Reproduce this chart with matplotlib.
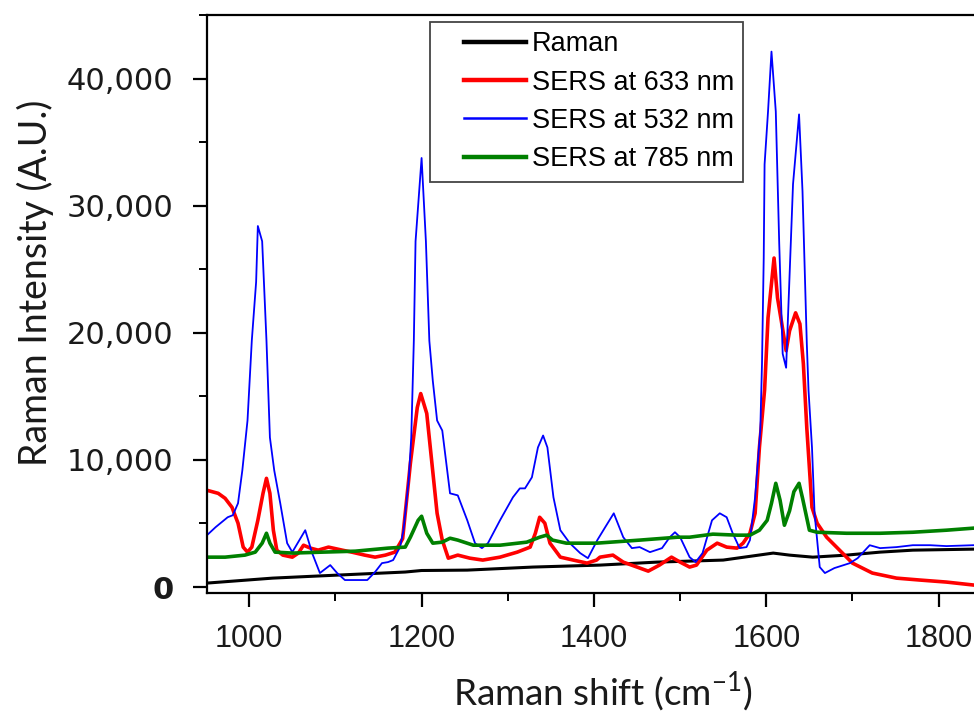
import matplotlib
matplotlib.use("Agg")
import matplotlib.pyplot as plt
from matplotlib.ticker import MultipleLocator
from matplotlib.legend_handler import HandlerLine2D

# Raman shift (cm-1) / intensity
raman_x = [951, 1027, 1103, 1181, 1200, 1253, 1329, 1407, 1473, 1550, 1608, 1627, 1654, 1693, 1732, 1770, 1840]
raman_y = [310, 700, 940, 1180, 1300, 1330, 1570, 1725, 1960, 2120, 2670, 2510, 2350, 2510, 2745, 2900, 2980]

sers633_x = [951, 964, 972, 980, 987, 993, 998, 1003, 1010, 1016, 1020, 1024, 1028, 1032, 1039,
             1050, 1057, 1063, 1071, 1080, 1092, 1108, 1119, 1134, 1146, 1158, 1169, 1178, 1187,
             1195, 1199, 1206, 1212, 1218, 1224, 1231, 1242, 1256, 1271, 1291, 1311, 1326, 1332,
             1337, 1343, 1349, 1361, 1376, 1392, 1403, 1407, 1422, 1434, 1450, 1463, 1476, 1490,
             1500, 1511, 1519, 1531, 1543, 1554, 1566, 1573, 1581, 1587, 1592, 1598, 1602, 1609,
             1613, 1618, 1623, 1627, 1634, 1639, 1643, 1647, 1653, 1659, 1670, 1685, 1700, 1723,
             1751, 1778, 1809, 1840]
sers633_y = [7610, 7370, 6980, 6270, 5020, 3140, 2745, 3140, 5250, 7370, 8550, 7370, 4470, 2900, 2510,
             2350, 2670, 3290, 3060, 2900, 3140, 2900, 2745, 2510, 2350, 2510, 2745, 3800, 9730,
             14120, 15220, 13650, 9730, 5800, 3690, 2270, 2510, 2270, 2120, 2350, 2745, 3140, 4230,
             5490, 5020, 3450, 2350, 2120, 1880, 2120, 2350, 2510, 1960, 1570, 1250, 1725, 2350,
             1960, 1570, 1725, 2900, 3450, 3140, 3060, 3450, 4230, 5800, 10980, 15500, 21180, 25880,
             22750, 20700, 18590, 20160, 21570, 20700, 17570, 12500, 6270, 5020, 3920, 2900, 1880, 1100,
             700, 550, 390, 160]

sers532_x = [951, 961, 975, 981, 987, 992, 998, 1003, 1008, 1010, 1015, 1020, 1024, 1029, 1036,
             1044, 1050, 1065, 1073, 1082, 1094, 1102, 1111, 1137, 1146, 1154, 1161, 1167, 1175,
             1179, 1185, 1188, 1191, 1193, 1200, 1205, 1209, 1213, 1218, 1224, 1233, 1242, 1253,
             1262, 1270, 1277, 1291, 1306, 1314, 1320, 1328, 1335, 1341, 1346, 1353, 1361, 1372,
             1384, 1393, 1404, 1413, 1423, 1434, 1444, 1453, 1465, 1479, 1488, 1494, 1500, 1511,
             1518, 1526, 1537, 1546, 1554, 1561, 1569, 1577, 1581, 1587, 1593, 1595, 1597, 1598,
             1602, 1606, 1611, 1615, 1619, 1623, 1625, 1631, 1638, 1642, 1647, 1649, 1653, 1656,
             1662, 1668, 1679, 1697, 1706, 1720, 1732, 1751, 1770, 1790, 1809, 1840]
sers532_y = [4080, 4710, 5490, 5650, 6590, 9180, 13100, 19400, 24000, 28400, 27200, 19400, 11760, 9180, 6590,
             3450, 2745, 4470, 2670, 1100, 1725, 1100, 550, 550, 1180, 1880, 1960, 2120, 3140,
             4470, 8390, 11760, 19370, 27200, 33750, 27200, 19370, 16230, 13100, 12310, 7370, 7210, 5250,
             3450, 3060, 3450, 5250, 7060, 7760, 7760, 8630, 10980, 11920, 10980, 7060, 4470, 3450,
             2670, 2270, 3700, 4700, 5800, 3920, 3060, 3140, 2745, 3060, 3920, 4310, 3920, 2350,
             1960, 2670, 5250, 5800, 5490, 4230, 3060, 3140, 3690, 7060, 12310, 17570, 25880, 33250,
             37410, 42120, 37410, 26980, 18350, 17250, 20940, 31690, 37180, 31140, 19140, 15450, 10980, 5800,
             1570, 1100, 1490, 1880, 2270, 3290, 3060, 3140, 3290, 3290, 3220, 3290]

sers785_x = [951, 972, 995, 1007, 1015, 1020, 1024, 1030, 1050, 1085, 1123, 1161, 1181, 1187, 1196,
             1200, 1206, 1213, 1224, 1233, 1242, 1260, 1291, 1322, 1337, 1345, 1352, 1368, 1403,
             1453, 1497, 1511, 1538, 1566, 1581, 1592, 1601, 1606, 1611, 1616, 1621, 1627, 1632,
             1638, 1642, 1650, 1659, 1693, 1732, 1770, 1809, 1840]
sers785_y = [2350, 2350, 2510, 2745, 3450, 4230, 3450, 2745, 2670, 2745, 2820, 3060, 3140, 3920, 5250,
             5570, 4230, 3450, 3530, 3840, 3690, 3290, 3290, 3530, 3920, 4080, 3690, 3450, 3450,
             3690, 3920, 3920, 4160, 4080, 4080, 4470, 5250, 6590, 8160, 6820, 4860, 6000, 7500,
             8160, 7000, 4470, 4310, 4230, 4230, 4310, 4470, 4630]

series_labels = ["Raman", "SERS at 633 nm", "SERS at 532 nm", "SERS at 785 nm"]
y_ticks = [0, 10000, 20000, 30000, 40000]
y_tick_labels = ["0", "10,000", "20,000", "30,000", "40,000"]
x_ticks = [1000, 1200, 1400, 1600, 1800]

fig = plt.figure(figsize=(9.74, 7.13), dpi=100)
ax = fig.add_axes([207 / 974, 120 / 713, 767 / 974, 578 / 713])

ax.plot(raman_x, raman_y, color="black", lw=2.2, label=series_labels[0])
ax.plot(sers633_x, sers633_y, color="#ff0000", lw=2.6, label=series_labels[1])
ax.plot(sers532_x, sers532_y, color="#0000ff", lw=1.3, label=series_labels[2])
ax.plot(sers785_x, sers785_y, color="#008000", lw=2.6, label=series_labels[3])

ax.set_xlim(951, 1841)
ax.set_ylim(-470, 45000)

ax.spines["right"].set_visible(False)
for s in ["left", "bottom", "top"]:
    ax.spines[s].set_linewidth(1.6)

ax.set_yticks(y_ticks)
ax.set_yticklabels(y_tick_labels, fontsize=22, family="DejaVu Sans", color="#1a1a1a")
ax.get_yticklabels()[0].set_fontweight("bold")
ax.set_xticks(x_ticks)
ax.set_xticklabels([str(t) for t in x_ticks], fontsize=22,
                   family=["Liberation Sans Narrow", "Liberation Sans"], color="#1a1a1a")
ax.yaxis.set_minor_locator(MultipleLocator(5000))
ax.xaxis.set_minor_locator(MultipleLocator(100))
ax.tick_params(axis="both", which="major", direction="out", length=10, width=1.6)
ax.tick_params(axis="both", which="minor", direction="out", length=6, width=1.4)
ax.tick_params(axis="y", which="major", pad=14)
ax.tick_params(axis="x", which="major", pad=12)

fig.text(603 / 974, 1 - 692 / 713, "Raman shift (cm$^{\\mathregular{-1}}$)", ha="center", va="center",
         fontsize=26.5, family="Lato", color="#1a1a1a")
fig.text(35 / 974, 1 - 283 / 713, "Raman Intensity (A.U.)", ha="center", va="center",
         rotation=90, fontsize=27, family="Lato", color="#1a1a1a")

hm = {ln: HandlerLine2D(xpad=0.9) for ln in ax.get_lines()}
leg = ax.legend(loc="upper left", bbox_to_anchor=(430 / 974, 1 - 22 / 713),
                bbox_transform=fig.transFigure, prop={"family": "Liberation Sans", "size": 19.5},
                frameon=True, fancybox=False, edgecolor="#444444", framealpha=1,
                borderpad=0.35, borderaxespad=0, labelspacing=0.45, handlelength=3.2,
                handletextpad=0.2, handler_map=hm)
leg.get_frame().set_linewidth(1.3)
for h in leg.get_lines():
    h.set_linewidth(3.2 if h.get_color() != "#0000ff" else 1.8)

fig.savefig("out.png", dpi=100)
